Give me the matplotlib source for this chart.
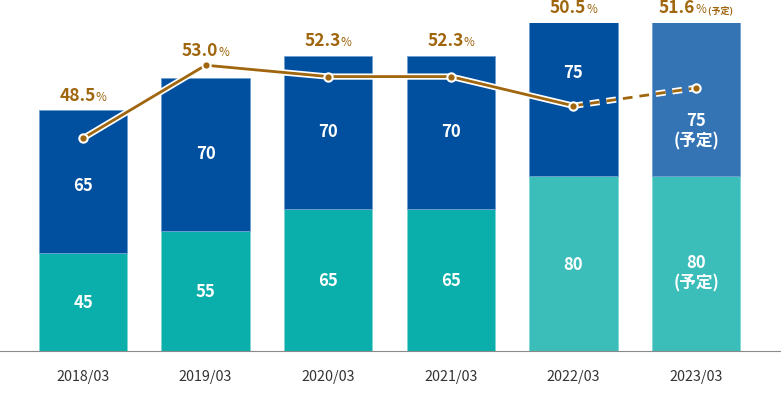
import matplotlib.pyplot as plt
import matplotlib.patheffects as pe
from matplotlib.offsetbox import TextArea, HPacker, AnnotationBbox

plt.rcParams['font.family'] = ['Noto Sans CJK JP', 'DejaVu Sans']

# ----- data -----
years = ['2018/03', '2019/03', '2020/03', '2021/03', '2022/03', '2023/03']
lower = [45, 55, 65, 65, 80, 80]
upper = [65, 70, 70, 70, 75, 75]
ratio = [48.5, 53.0, 52.3, 52.3, 50.5, 51.6]
planned = [False, False, False, False, False, True]

# ----- colours -----
teal, teal_lt = '#0aaeaa', '#3bbdb9'
blue, blue_lt = '#00509f', '#3474b4'
gold = '#a0660d'

lower_col = [teal, teal, teal, teal, teal_lt, teal_lt]
upper_col = [blue, blue, blue, blue, blue, blue_lt]

fig = plt.figure(figsize=(7.81, 3.94), dpi=100)
ax = fig.add_axes([0, 43 / 394, 1, 328 / 394])
ax2 = ax.twinx()

x = list(range(len(years)))
YMAX = 150
P_LO, P_HI = 35.4, 55.6

ax.bar(x, lower, width=0.72, color=lower_col, edgecolor='#7fd6d3', linewidth=0.6)
ax.bar(x, upper, bottom=lower, width=0.72, color=upper_col, edgecolor='#6f9fd0', linewidth=0.6)
ax.set_ylim(0, YMAX)
ax.set_xlim(-0.677, 5.693)

for s in ['top', 'right', 'left']:
    ax.spines[s].set_visible(False)
    ax2.spines[s].set_visible(False)
ax.spines['bottom'].set_color('#8a8a8a')
ax2.spines['bottom'].set_visible(False)
ax.set_yticks([])
ax2.set_yticks([])
ax.set_xticks(x)
ax.set_xticklabels(years, fontsize=10.3, color='#333333')
ax.tick_params(axis='x', length=0, pad=14)

# inner value labels
up_shift = [-3, 0, 0, 0, 19, -23]   # points, nudges to keep clear of the line
for i in x:
    suffix = '\n(予定)' if planned[i] else ''
    lo_c = lower[i] / 2
    ax.annotate(f'{lower[i]}{suffix}', (i, lo_c), xytext=(0, -7 if planned[i] else -1),
                textcoords='offset points', ha='center', va='center',
                color='white', fontsize=12, fontweight='bold', linespacing=1.2)
    top = min(lower[i] + upper[i], YMAX)
    up_c = (lower[i] + top) / 2
    ax.annotate(f'{upper[i]}{suffix}', (i, up_c), xytext=(0, up_shift[i]),
                textcoords='offset points', ha='center', va='center',
                color='white', fontsize=12, fontweight='bold', linespacing=1.2)

# ratio line
stroke = [pe.Stroke(linewidth=4.5, foreground='white'), pe.Normal()]
ax2.set_ylim(P_LO, P_HI)
ax2.plot(x[:5], ratio[:5], color=gold, lw=2, path_effects=stroke, zorder=3)
ax2.plot(x[4:], ratio[4:], color=gold, lw=2, ls=(0, (3.5, 2.5)), path_effects=stroke, zorder=3)
ax2.plot(x, ratio, 'o', color=gold, ms=6, mec='white', mew=1.5, zorder=4)

# ratio labels
for i in x:
    bar_top = min(lower[i] + upper[i], YMAX)
    pt = (ratio[i] - P_LO) / (P_HI - P_LO) * YMAX
    y = max(bar_top, pt)
    parts = [TextArea(f'{ratio[i]:.1f}', textprops=dict(color=gold, fontsize=12.5, fontweight='bold')),
             TextArea('%', textprops=dict(color=gold, fontsize=8.5))]
    if planned[i]:
        parts.append(TextArea(' (予定)', textprops=dict(color=gold, fontsize=6.5, fontweight='bold')))
    box = HPacker(children=parts, align='baseline', pad=0, sep=0)
    ab = AnnotationBbox(box, (i, y), xybox=(0, 4), xycoords='data', boxcoords='offset points',
                        box_alignment=(0.5, 0), frameon=False, annotation_clip=False)
    ax.add_artist(ab)

fig.savefig('out.png', dpi=100)
